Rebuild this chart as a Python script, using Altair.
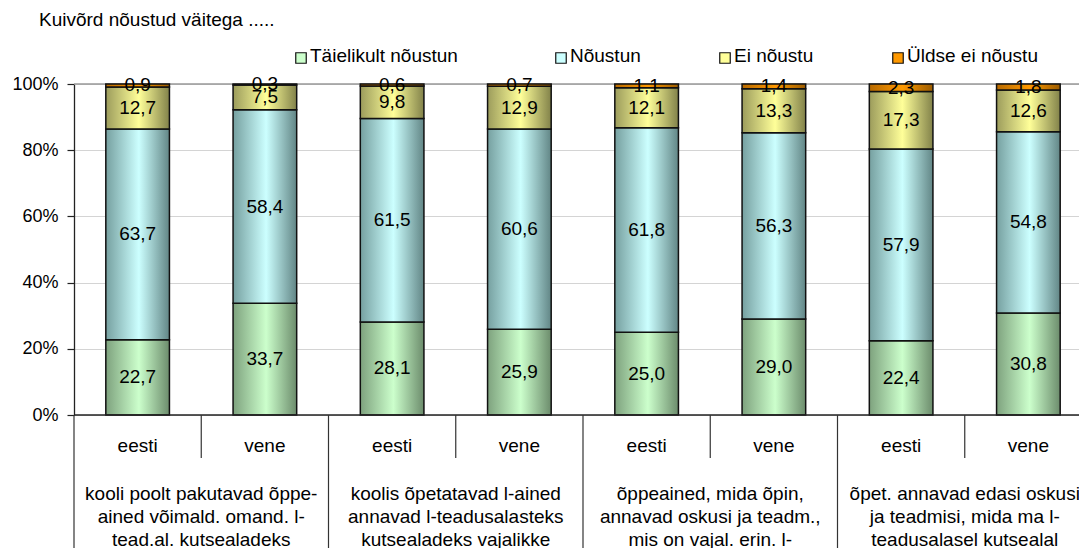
import altair as alt
import pandas as pd

# ---------------- data ----------------
title_text = "Kuivõrd nõustud väitega ....."
series = ["Täielikult nõustun", "Nõustun", "Ei nõustu", "Üldse ei nõustu"]
languages = ["eesti", "vene"]
groups = [
    "kooli poolt pakutavad õppe-\nained võimald. omand. l-\ntead.al. kutsealadeks",
    "koolis õpetatavad l-ained\nannavad l-teadusalasteks\nkutsealadeks vajalikke",
    "õppeained, mida õpin,\nannavad oskusi ja teadm.,\nmis on vajal. erin. l-",
    "õpet. annavad edasi oskusi\nja teadmisi, mida ma l-\nteadusalasel kutsealal",
]
full_agree = [22.7, 33.7, 28.1, 25.9, 25.0, 29.0, 22.4, 30.8]
agree = [63.7, 58.4, 61.5, 60.6, 61.8, 56.3, 57.9, 54.8]
disagree = [12.7, 7.5, 9.8, 12.9, 12.1, 13.3, 17.3, 12.6]
strongly_disagree = [0.9, 0.3, 0.6, 0.7, 1.1, 1.4, 2.3, 1.8]
y_ticks = [0, 0.2, 0.4, 0.6, 0.8, 1.0]

# ---------------- styling ----------------
FONT = "Liberation Sans"
W, H = 1018, 331
STEP = W / 8
SEP_OFF = -STEP * 0.25
solid = ["#ccffcc", "#ccffff", "#ffff99", "#ff9900"]
grad_stops = [
    ("#7ea27e", "#ccffcc", "#6c8c6c"),
    ("#76a0a0", "#ccffff", "#628686"),
    ("#9c9c5c", "#ffff99", "#82824a"),
    ("#b86a00", "#ff9900", "#9c5c00"),
]
legend_x = [227, 487, 651, 824]

# ---------------- tables ----------------
values = [full_agree, agree, disagree, strongly_disagree]
keys, key_lang = [], []
for gi in range(len(groups)):
    for lang in languages:
        keys.append(f"{gi + 1} {lang}")
        key_lang.append(lang)

rows = []
for ki, k in enumerate(keys):
    for si, s in enumerate(series):
        v = values[si][ki]
        rows.append({"key": k, "series": s, "order": si, "value": v,
                     "label": f"{v:.1f}".replace(".", ",")})
df = pd.DataFrame(rows)
df_keys = pd.DataFrame({"key": keys, "lang": key_lang})
df_groups = pd.DataFrame({"key": [f"{i + 1} vene" for i in range(len(groups))],
                          "text": groups})

xscale = alt.Scale(domain=keys, paddingInner=0.5, paddingOuter=0.25)
yscale = alt.Scale(domain=[0, 1])
yaxis = alt.Axis(values=y_ticks, format=".0%", title=None, grid=True,
                 gridColor="#d4d4d4", gridWidth=1, domainColor="#222",
                 domainWidth=1.3, tickColor="#222", tickSize=7, tickWidth=1.2,
                 labelPadding=9, labelFontSize=18, labelColor="black",
                 labelFont=FONT)


def X(field="key:N", **kw):
    return alt.X(field, scale=xscale, axis=None, **kw)


def Y(field):
    return alt.Y(field, scale=yscale, axis=yaxis)


top_rule = alt.Chart(pd.DataFrame({"v": [1.0]})).mark_rule(color="#999999", strokeWidth=1.5).encode(
    y=Y("v:Q"), x=alt.value(0), x2=alt.value(W)
)

base = alt.Chart(df).transform_stack(
    stack="value", as_=["y0", "y1"], groupby=["key"],
    sort=[alt.SortField("order", order="ascending")], offset="normalize"
)

bar_layers = []
for si, s in enumerate(series):
    c0, c1, c2 = grad_stops[si]
    grad = alt.LinearGradient(
        gradient="linear",
        stops=[alt.GradientStop(color=c0, offset=0),
               alt.GradientStop(color=c1, offset=0.52),
               alt.GradientStop(color=c2, offset=1)],
        x1=0, x2=1, y1=0, y2=0)
    bar_layers.append(
        base.transform_filter(alt.datum.series == s)
        .mark_bar(fill=grad, stroke="#111111", strokeWidth=1.5)
        .encode(x=X(), y=Y("y0:Q"), y2="y1:Q")
    )

value_labels = base.transform_calculate(ymid="(datum.y0 + datum.y1) / 2").mark_text(
    font=FONT, fontSize=19, color="black", baseline="middle"
).encode(x=X(), y=Y("ymid:Q"), text="label:N")

x_domain = alt.Chart(pd.DataFrame({"v": [0]})).mark_rule(color="#222", strokeWidth=1.3).encode(
    y=alt.value(H), x=alt.value(0), x2=alt.value(W)
)

short_sep = alt.Chart(df_keys).transform_filter(alt.datum.lang == "vene").mark_rule(
    color="#333", strokeWidth=1.2, xOffset=SEP_OFF
).encode(x=X(bandPosition=0), y=alt.value(H), y2=alt.value(H + 43))

long_sep = alt.Chart(df_keys).transform_filter(alt.datum.lang == "eesti").mark_rule(
    color="#333", strokeWidth=1.2, xOffset=SEP_OFF
).encode(x=X(bandPosition=0), y=alt.value(H), y2=alt.value(H + 260))

lang_labels = alt.Chart(df_keys).mark_text(
    font=FONT, fontSize=19, color="black", baseline="middle"
).encode(x=X(), y=alt.value(H + 31), text="lang:N")

group_labels = alt.Chart(df_groups).mark_text(
    font=FONT, fontSize=19, color="black", baseline="alphabetic",
    lineBreak="\n", lineHeight=23, dx=SEP_OFF
).encode(x=X(bandPosition=0), y=alt.value(H + 85), text="text:N")

title_layer = alt.Chart(pd.DataFrame({"t": [title_text]})).mark_text(
    font=FONT, fontSize=19, color="black", align="left", baseline="middle"
).encode(x=alt.value(-35), y=alt.value(-64), text="t:N")

legend_layers = []
for si, s in enumerate(series):
    d = pd.DataFrame({"series": [s]})
    legend_layers.append(
        alt.Chart(d).mark_square(size=110, fill=solid[si], stroke="#111", strokeWidth=1.2, opacity=1)
        .encode(x=alt.value(legend_x[si]), y=alt.value(-26))
    )
    legend_layers.append(
        alt.Chart(d).mark_text(font=FONT, fontSize=19, color="black", align="left", baseline="middle")
        .encode(x=alt.value(legend_x[si] + 9), y=alt.value(-28), text="series:N")
    )

chart = alt.layer(
    top_rule, *bar_layers, value_labels, x_domain, short_sep, long_sep,
    lang_labels, group_labels, title_layer, *legend_layers
).properties(
    width=W, height=H,
    autosize=alt.AutoSizeParams(type="none"),
    padding={"left": 66, "top": 76, "right": 1071 - 66 - W, "bottom": 141},
    background="white",
).configure_view(stroke=None)

chart.save("out.html", embed_options={"renderer": "svg", "actions": False})
